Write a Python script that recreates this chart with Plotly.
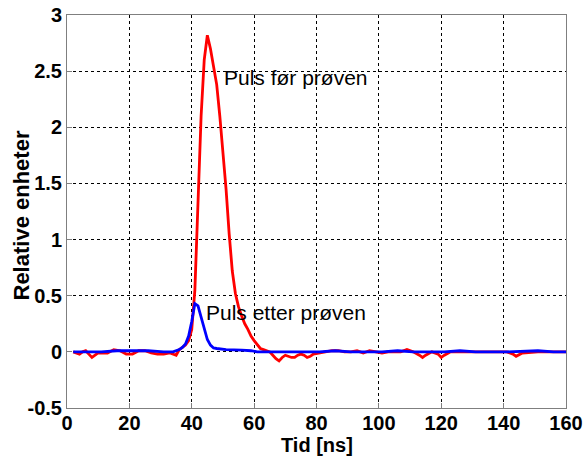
import plotly.graph_objects as go

# Red pulse: "Puls før prøven"
red_t = [2, 3, 4, 5, 6, 7, 8, 9, 10, 11, 13, 15, 17, 19, 21, 23, 25, 27, 29, 31,
         33, 35, 36, 37, 38, 39, 40, 41, 42, 43, 44, 45, 46, 47, 48, 49, 50, 51,
         52, 53, 54, 55, 56, 57, 58, 59, 60, 61, 62, 63, 64, 65, 66, 67, 68, 69,
         70, 71, 72, 73, 74, 75, 76, 77, 78, 79, 81, 83, 85, 87, 89, 91, 93, 94,
         95, 97, 99, 101, 103, 105, 107, 109, 111, 113, 114, 115, 117, 119, 120,
         121, 123, 125, 127, 129, 131, 135, 139, 141, 143, 144, 146, 149, 151,
         155, 159, 160]
red_y = [0.0, -0.01, -0.02, 0.0, 0.01, -0.02, -0.05, -0.03, -0.01, -0.01, -0.01,
         0.02, 0.01, -0.02, -0.02, 0.01, 0.01, -0.01, -0.02, -0.02, -0.01, -0.03,
         0.02, 0.04, 0.06, 0.1, 0.2, 0.55, 1.35, 2.1, 2.6, 2.82, 2.7, 2.52, 2.38,
         2.1, 1.8, 1.45, 1.05, 0.72, 0.52, 0.4, 0.32, 0.25, 0.2, 0.14, 0.1, 0.06,
         0.03, 0.02, 0.01, 0.0, -0.03, -0.06, -0.08, -0.05, -0.03, -0.04, -0.05,
         -0.05, -0.03, -0.02, -0.03, -0.05, -0.04, -0.02, -0.01, 0.0, 0.01, 0.01,
         0.0, 0.0, 0.01, 0.0, -0.01, 0.01, 0.0, -0.01, 0.0, 0.0, 0.0, 0.02, 0.0,
         -0.03, -0.05, -0.03, 0.0, -0.02, -0.05, -0.03, 0.0, 0.0, 0.0, 0.0, 0.0,
         0.0, 0.0, 0.0, -0.02, -0.04, -0.01, 0.0, 0.0, 0.0, 0.0, 0.0]

# Blue pulse: "Puls etter prøven"
blue_t = [2, 6, 11, 16, 21, 26, 31, 34, 36, 37, 38, 39, 40, 41, 42, 43, 44, 45,
          46, 47, 48, 51, 56, 59, 61, 71, 81, 86, 91, 101, 106, 111, 121, 126,
          131, 141, 151, 156, 160]
blue_y = [0.0, 0.0, 0.0, 0.01, 0.01, 0.01, 0.0, 0.0, 0.02, 0.04, 0.07, 0.14,
          0.27, 0.43, 0.41, 0.31, 0.2, 0.11, 0.06, 0.035, 0.03, 0.02, 0.015,
          0.01, 0.0, 0.0, 0.0, 0.01, 0.0, 0.0, 0.01, 0.0, 0.0, 0.01, 0.0, 0.0,
          0.01, 0.0, 0.0]

x_ticks = [0, 20, 40, 60, 80, 100, 120, 140, 160]
y_ticks = [-0.5, 0, 0.5, 1, 1.5, 2, 2.5, 3]
y_tick_labels = ["-0.5", "0", "0.5", "1", "1.5", "2", "2.5", "3"]

label_red = "Puls før prøven"
label_blue = "Puls etter prøven"
x_title = "Tid [ns]"
y_title = "Relative enheter"

FONT = "Liberation Sans, Arial, sans-serif"

fig = go.Figure()
fig.add_trace(go.Scatter(x=red_t, y=red_y, mode="lines",
                         line=dict(color="#ff0000", width=2.8), showlegend=False))
fig.add_trace(go.Scatter(x=blue_t, y=blue_y, mode="lines",
                         line=dict(color="#0000ff", width=2.8), showlegend=False))

fig.add_annotation(x=49.6, y=2.44, text=label_red, showarrow=False,
                   xanchor="left", yanchor="middle",
                   font=dict(family=FONT, size=21, color="black"))
fig.add_annotation(x=43.9, y=0.35, text=label_blue, showarrow=False,
                   xanchor="left", yanchor="middle",
                   font=dict(family=FONT, size=21, color="black"))

# axis titles placed as annotations, close to the tick labels as in the reference
fig.add_annotation(xref="paper", yref="paper", x=0, y=0.5, xshift=-46, yshift=-4,
                   text=y_title, textangle=-90, showarrow=False,
                   xanchor="center", yanchor="middle",
                   font=dict(family=FONT, size=22, color="black", weight="bold"))
fig.add_annotation(xref="paper", yref="paper", x=0.5, y=0, yshift=-25,
                   text=x_title, showarrow=False,
                   xanchor="center", yanchor="top", borderpad=0,
                   font=dict(family=FONT, size=20, color="black", weight="bold"))

axis_common = dict(showline=True, linecolor="#7f7f7f", linewidth=1, mirror=True,
                   showgrid=True, gridcolor="black", gridwidth=1,
                   griddash="3px,3px", zeroline=False, automargin=False,
                   ticks="inside", ticklen=5, tickcolor="#7f7f7f",
                   tickfont=dict(family=FONT, size=20, color="black", weight="bold"))

fig.update_xaxes(range=[0, 160], tickvals=x_ticks, ticklabelstandoff=-3,
                 **axis_common)
fig.update_yaxes(range=[-0.5, 3], tickvals=y_ticks, ticktext=y_tick_labels,
                 **axis_common)

fig.update_layout(width=587, height=456,
                  margin=dict(l=67, r=21, t=15, b=48),
                  paper_bgcolor="white", plot_bgcolor="white")

fig.write_html("out.html")
